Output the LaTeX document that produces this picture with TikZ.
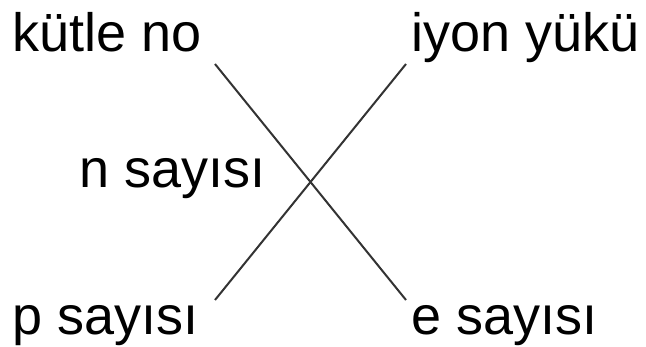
\documentclass[tikz,border=0pt]{standalone}
\usepackage{fontspec}
\setmainfont{Liberation Sans}
\begin{document}
\begin{tikzpicture}[x=1pt,y=-1pt,
  lbl/.style={anchor=base west,inner sep=0pt,font=\fontsize{54}{60}\selectfont,text=black},
  ln/.style={draw=black!80,line width=2pt}]
\useasboundingbox (0,0) rectangle (646,347);
\node[lbl] (kutle) at (12,52) {kütle no};
\node[lbl] (iyon) at (411,52) {iyon yükü};
\node[lbl] (n) at (79,188) {n sayısı};
\node[lbl] (p) at (12,335) {p sayısı};
\node[lbl] (e) at (411,335) {e sayısı};
\coordinate (a1) at (215,64);
\coordinate (a2) at (406,300);
\coordinate (b1) at (406,64);
\coordinate (b2) at (215,300);
\draw[ln] (a1) -- (a2);
\draw[ln] (b1) -- (b2);
\end{tikzpicture}
\end{document}
